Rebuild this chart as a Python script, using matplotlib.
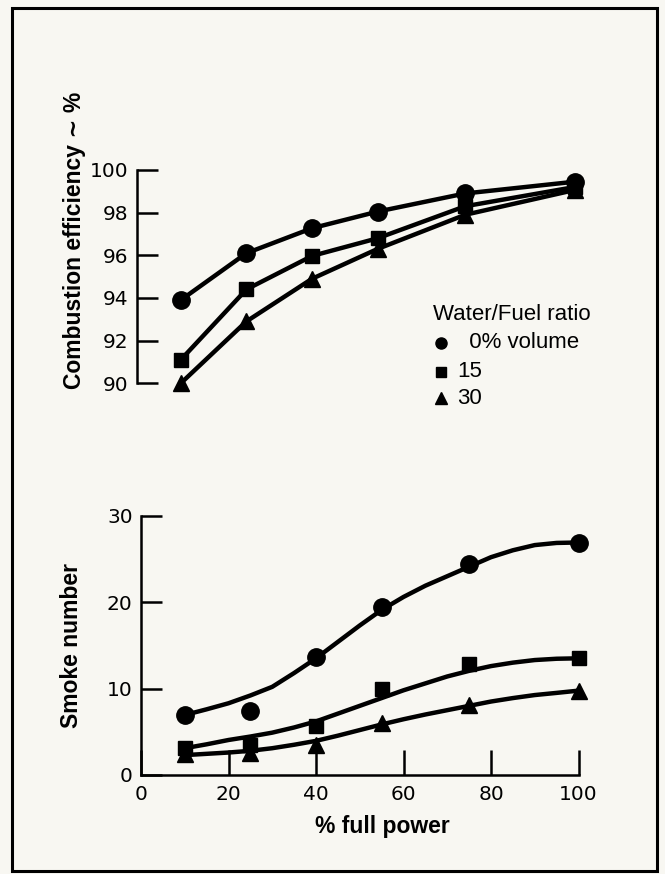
import matplotlib
matplotlib.use("Agg")
import matplotlib.pyplot as plt
from matplotlib.patches import Rectangle

# ---------------- data ----------------
power = [10, 25, 40, 55, 75, 100]

eff_0 = [93.9, 96.1, 97.27, 98.05, 98.9, 99.45]
eff_15 = [91.1, 94.4, 95.97, 96.8, 98.3, 99.2]
eff_30 = [90.0, 92.9, 94.9, 96.3, 97.9, 99.06]

smoke_0 = [6.94, 7.45, 13.6, 19.4, 24.4, 26.8]
smoke_15 = [3.1, 3.5, 5.67, 10.0, 12.9, 13.5]
smoke_30 = [2.4, 2.5, 3.5, 6.05, 8.1, 9.76]

# fitted curves
fit_x = [10, 15, 20, 25, 30, 35, 40, 45, 50, 55, 60, 65, 70, 75, 80, 85, 90, 95, 100]
fit_0 = [6.94, 7.6, 8.3, 9.2, 10.2, 11.8, 13.5, 15.4, 17.3, 19.1, 20.6, 21.9, 23.0,
         24.1, 25.2, 26.0, 26.6, 26.85, 26.9]
fit_15 = [3.1, 3.55, 4.05, 4.45, 4.9, 5.5, 6.2, 7.1, 8.0, 8.9, 9.8, 10.6, 11.4,
          12.05, 12.6, 13.0, 13.3, 13.45, 13.5]
fit_30 = [2.3, 2.45, 2.6, 2.8, 3.1, 3.5, 3.95, 4.55, 5.2, 5.85, 6.45, 7.0, 7.5,
          8.0, 8.5, 8.9, 9.25, 9.5, 9.76]

eff_ticks = [90, 92, 94, 96, 98, 100]
smoke_ticks = [0, 10, 20, 30]
power_ticks = [0, 20, 40, 60, 80, 100]

legend_title = "Water/Fuel ratio"
legend_labels = ["  0% volume", "15", "30"]

# ---------------- style ----------------
BG = "#f8f7f2"
W, H = 665, 874
fig = plt.figure(figsize=(W / 100, H / 100), dpi=100, facecolor=BG)

label_font = dict(family=["Liberation Sans", "DejaVu Sans"], fontweight="bold", fontsize=16.5)
tick_font = 14.5
lw = 3.2
spine_lw = 1.8

# frame
fig.patches.append(Rectangle((12 / W, 1 - 871 / H), (657 - 12) / W, (871 - 8) / H,
                             transform=fig.transFigure, fill=False, lw=2.2,
                             edgecolor="black", zorder=10))

def style(ax):
    ax.set_facecolor("none")
    for s in ["top", "right"]:
        ax.spines[s].set_visible(False)
    ax.spines["left"].set_linewidth(spine_lw)
    ax.spines["bottom"].set_linewidth(spine_lw)
    ax.tick_params(axis="y", direction="in", length=15, width=spine_lw,
                   labelsize=tick_font, pad=6)
    ax.tick_params(axis="x", direction="in", length=18, width=spine_lw,
                   labelsize=tick_font, pad=7)

# ---------- top panel ----------
ax1 = fig.add_axes([137 / W, 1 - 383.3 / H, 437.5 / W, 213.3 / H])
style(ax1)
ax1.spines["bottom"].set_visible(False)
ax1.set_xlim(0, 100)
ax1.set_ylim(90, 100)
ax1.set_yticks(eff_ticks)
ax1.set_xticks([])
for y, m, ms in [(eff_0, "o", 12.5), (eff_15, "s", 10.5), (eff_30, "^", 11)]:
    ax1.plot(power, y, color="black", lw=lw, marker=m, ms=ms, clip_on=False,
             solid_capstyle="round")
fig.text(75 / W, 1 - 240 / H, "Combustion efficiency \u223c %", rotation=90,
         ha="center", va="center", **label_font)

# legend (manual, in figure pixels)
fig.text(433 / W, 1 - 315 / H, legend_title, ha="left", va="center",
         family=["Liberation Sans", "DejaVu Sans"], fontsize=16)
leg_markers = ["o", "s", "^"]
leg_ms = [8, 7, 8.5]
leg_y = [343, 372, 398]
for m, ms, yy, lab in zip(leg_markers, leg_ms, leg_y, legend_labels):
    fig.lines.append(plt.Line2D([441 / W], [1 - yy / H], transform=fig.transFigure,
                                marker=m, ms=ms, color="black", ls="none"))
    fig.text(457 / W, 1 - yy / H, lab, ha="left", va="center",
             family=["Liberation Sans", "DejaVu Sans"], fontsize=16)

# ---------- bottom panel ----------
ax2 = fig.add_axes([141 / W, 1 - 775 / H, 437.5 / W, 259.3 / H])
style(ax2)
ax2.set_xlim(0, 100)
ax2.set_ylim(0, 30)
ax2.set_xticks(power_ticks)
ax2.set_yticks(smoke_ticks)
for fy in [fit_0, fit_15, fit_30]:
    ax2.plot(fit_x, fy, color="black", lw=lw, solid_capstyle="round",
             solid_joinstyle="round", clip_on=False)
for y, m, ms in [(smoke_0, "o", 12.5), (smoke_15, "s", 10.5), (smoke_30, "^", 11)]:
    ax2.plot(power, y, color="black", ls="none", marker=m, ms=ms, clip_on=False)
fig.text(72 / W, 1 - 646 / H, "Smoke number", rotation=90,
         ha="center", va="center", **label_font)
fig.text(382 / W, 1 - 827 / H, "% full power", ha="center", va="center", **label_font)

fig.savefig("out.png", dpi=100, facecolor=BG)
